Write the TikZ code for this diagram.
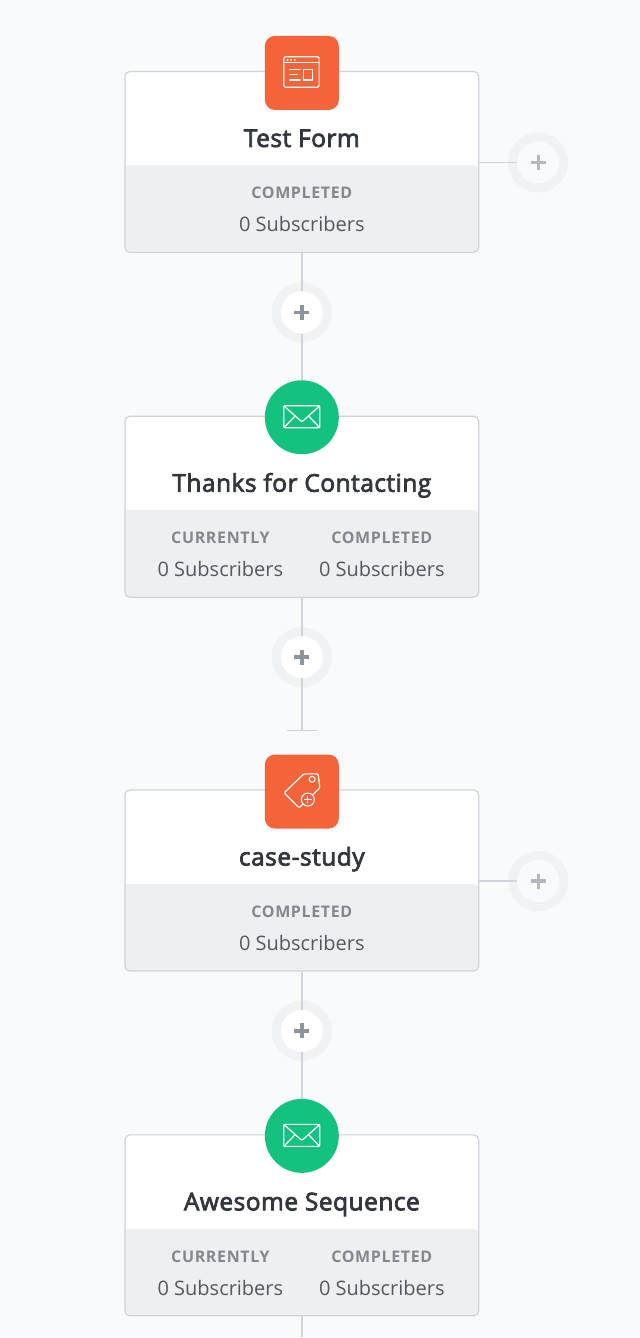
\documentclass[tikz,border=0pt]{standalone}
\usepackage{fontspec}
\setmainfont{Open Sans}
\newfontfamily\semifont[FakeBold=3,LetterSpace=2]{Open Sans}
\newfontfamily\capsfont[LetterSpace=4]{Open Sans Bold}
\definecolor{pagebg}{HTML}{F9FAFC}
\definecolor{edge}{HTML}{D0D3D9}
\definecolor{band}{HTML}{EEEFF1}
\definecolor{ringc}{HTML}{F1F2F4}
\definecolor{plusc}{HTML}{8F949C}
\definecolor{plusl}{HTML}{B4B8BE}
\definecolor{orangec}{HTML}{F4643B}
\definecolor{greenc}{HTML}{13C27F}
\definecolor{titlec}{HTML}{33373D}
\definecolor{labelc}{HTML}{84888E}
\definecolor{valuec}{HTML}{55595F}
\pgfdeclarelayer{ringlayer}
\pgfdeclarelayer{connlayer}
\pgfsetlayers{ringlayer,connlayer,main}
\tikzset{
  cardbox/.style={draw=edge,line width=1.2pt,rounded corners=5pt,minimum width=354pt,minimum height=181pt,inner sep=0pt,fill=none},
  conn/.style={draw=edge,line width=1.5pt},
  ring/.style={circle,fill=ringc,minimum size=60pt,inner sep=0pt},
  plusbtn/.style={circle,fill=white,minimum size=42pt,inner sep=0pt},
  plusbtnlight/.style={circle,fill=pagebg,minimum size=42pt,inner sep=0pt},
  squareicon/.style={fill=orangec,rounded corners=10pt,minimum size=74pt,inner sep=0pt},
  roundicon/.style={circle,fill=greenc,minimum size=74pt,inner sep=0pt},
  glyph/.style={draw=white,line width=1.2pt,line join=round,line cap=round},
  titletext/.style={anchor=base,font=\semifont\fontsize{24.5}{28}\selectfont,text=titlec,inner sep=0pt},
  labeltext/.style={anchor=base,font=\capsfont\fontsize{16}{20}\selectfont,text=labelc,inner sep=0pt},
  valuetext/.style={anchor=base,font=\fontsize{20}{24}\selectfont,text=valuec,inner sep=0pt},
}
% id, top y, title
\newcommand{\cardnode}[3]{%
  \fill[white,rounded corners=5pt] (125,#2) rectangle (479,#2+181);
  \fill[band,rounded corners=5pt] (125,#2+94) -- (125,#2+181) -- (479,#2+181) -- (479,#2+94) [sharp corners] -- cycle;
  \node[cardbox] (card#1) at (302,#2+90.5) {};
  \node[titletext] (title#1) at (302,#2+75.5) {#3};
}
\newcommand{\single}[2]{%
  \node[labeltext] (lab#1) at (302,#2+127.5) {COMPLETED};
  \node[valuetext] (val#1) at (302,#2+160.5) {0 Subscribers};
}
\newcommand{\double}[2]{%
  \node[labeltext] (laba#1) at (220.5,#2+127.5) {CURRENTLY};
  \node[valuetext] (vala#1) at (220.5,#2+160.5) {0 Subscribers};
  \node[labeltext] (labb#1) at (382,#2+127.5) {COMPLETED};
  \node[valuetext] (valb#1) at (382,#2+160.5) {0 Subscribers};
}
% id, x, y, button style, plus colour
\newcommand{\plusnode}[5]{%
  \begin{pgfonlayer}{ringlayer}
    \node[ring] (ring#1) at (#2,#3) {};
  \end{pgfonlayer}
  \node[#4] (plus#1) at (#2,#3) {};
  \draw[#5,line width=3.4pt] (#2-7.5,#3) -- (#2+7.5,#3) (#2,#3-7.5) -- (#2,#3+7.5);
}
\newcommand{\envelope}[2]{%
  \draw[glyph,rounded corners=0.8pt] (#1-18,#2-11) rectangle (#1+18,#2+11);
  \draw[glyph] (#1-17.5,#2-10.5) -- (#1-1.5,#2+3.8) .. controls (#1-0.5,#2+4.8) and (#1+0.5,#2+4.8) .. (#1+1.5,#2+3.8) -- (#1+17.5,#2-10.5);
  \draw[glyph] (#1-17.5,#2+10.5) -- (#1-6.5,#2-1) (#1+17.5,#2+10.5) -- (#1+6.5,#2-1);
}
\begin{document}
\begin{tikzpicture}[x=1pt,y=-1pt]
\begin{pgfonlayer}{ringlayer}
\useasboundingbox (0,0) rectangle (640,1338);
\fill[pagebg] (0,0) rectangle (640,1338);
\end{pgfonlayer}

% cards
\cardnode{1}{71.5}{Test Form}\single{1}{71.5}
\cardnode{2}{416.5}{Thanks for Contacting}\double{2}{416.5}
\cardnode{3}{790.5}{case-study}\single{3}{790.5}
\cardnode{4}{1135.5}{Awesome Sequence}\double{4}{1135.5}

% plus buttons
\plusnode{a}{302}{312.5}{plusbtn}{plusc}
\plusnode{b}{302}{657.5}{plusbtn}{plusc}
\plusnode{c}{302}{1031.5}{plusbtn}{plusc}
\plusnode{d}{538.5}{162.5}{plusbtnlight}{plusl}
\plusnode{e}{538.5}{881.5}{plusbtnlight}{plusl}

% icons
\node[squareicon] (icon1) at (302,73) {};
\node[roundicon] (icon2) at (302,417.5) {};
\node[squareicon] (icon3) at (302,792) {};
\node[roundicon] (icon4) at (302,1136.5) {};

% form glyph
\draw[glyph,rounded corners=1.5pt] (284,56.7) rectangle (319.3,87.3);
\draw[glyph] (284,62.9) -- (319.3,62.9);
\fill[white] (287.6,60) circle (1.1pt) (291.2,60) circle (1.1pt) (295,60) circle (1.1pt);
\draw[glyph] (303.3,69.3) rectangle (312.7,80);
\draw[glyph] (290,69.3) -- (300.3,69.3) (290,74.6) -- (297.3,74.6) (290,80) -- (300.3,80);

% envelopes
\envelope{302}{417}
\envelope{302}{1136}

% tag glyph
\draw[glyph,rounded corners=1.2pt] (304,774.3) -- (318.3,774.3) -- (320,788.3) -- (299.3,808.3) -- (284.3,793.3) -- cycle;
\draw[glyph,line width=1pt] (312.3,779.7) circle (3);
\filldraw[glyph,fill=orangec,line width=1pt] (308,800) circle (6.5);
\draw[glyph,line width=1pt] (304.5,800) -- (311.5,800) (308,796.5) -- (308,803.5);

% connectors
\coordinate (tbar) at (302,731);
\coordinate (tbarl) at (287,731);
\coordinate (tbarr) at (317,731);
\coordinate (tail) at (302,1338);
\begin{pgfonlayer}{connlayer}
\draw[conn] (card1.south) -- (plusa.north);
\draw[conn] (plusa.south) -- (icon2.north);
\draw[conn] (card2.south) -- (plusb.north);
\draw[conn] (plusb.south) -- (tbar);
\draw[conn] (tbarl) -- (tbarr);
\draw[conn] (card3.south) -- (plusc.north);
\draw[conn] (plusc.south) -- (icon4.north);
\draw[conn] (card4.south) -- (tail);
\draw[conn] (card1.east |- plusd.west) -- (plusd.west);
\draw[conn] (card3.east |- pluse.west) -- (pluse.west);
\end{pgfonlayer}
\end{tikzpicture}
\end{document}
